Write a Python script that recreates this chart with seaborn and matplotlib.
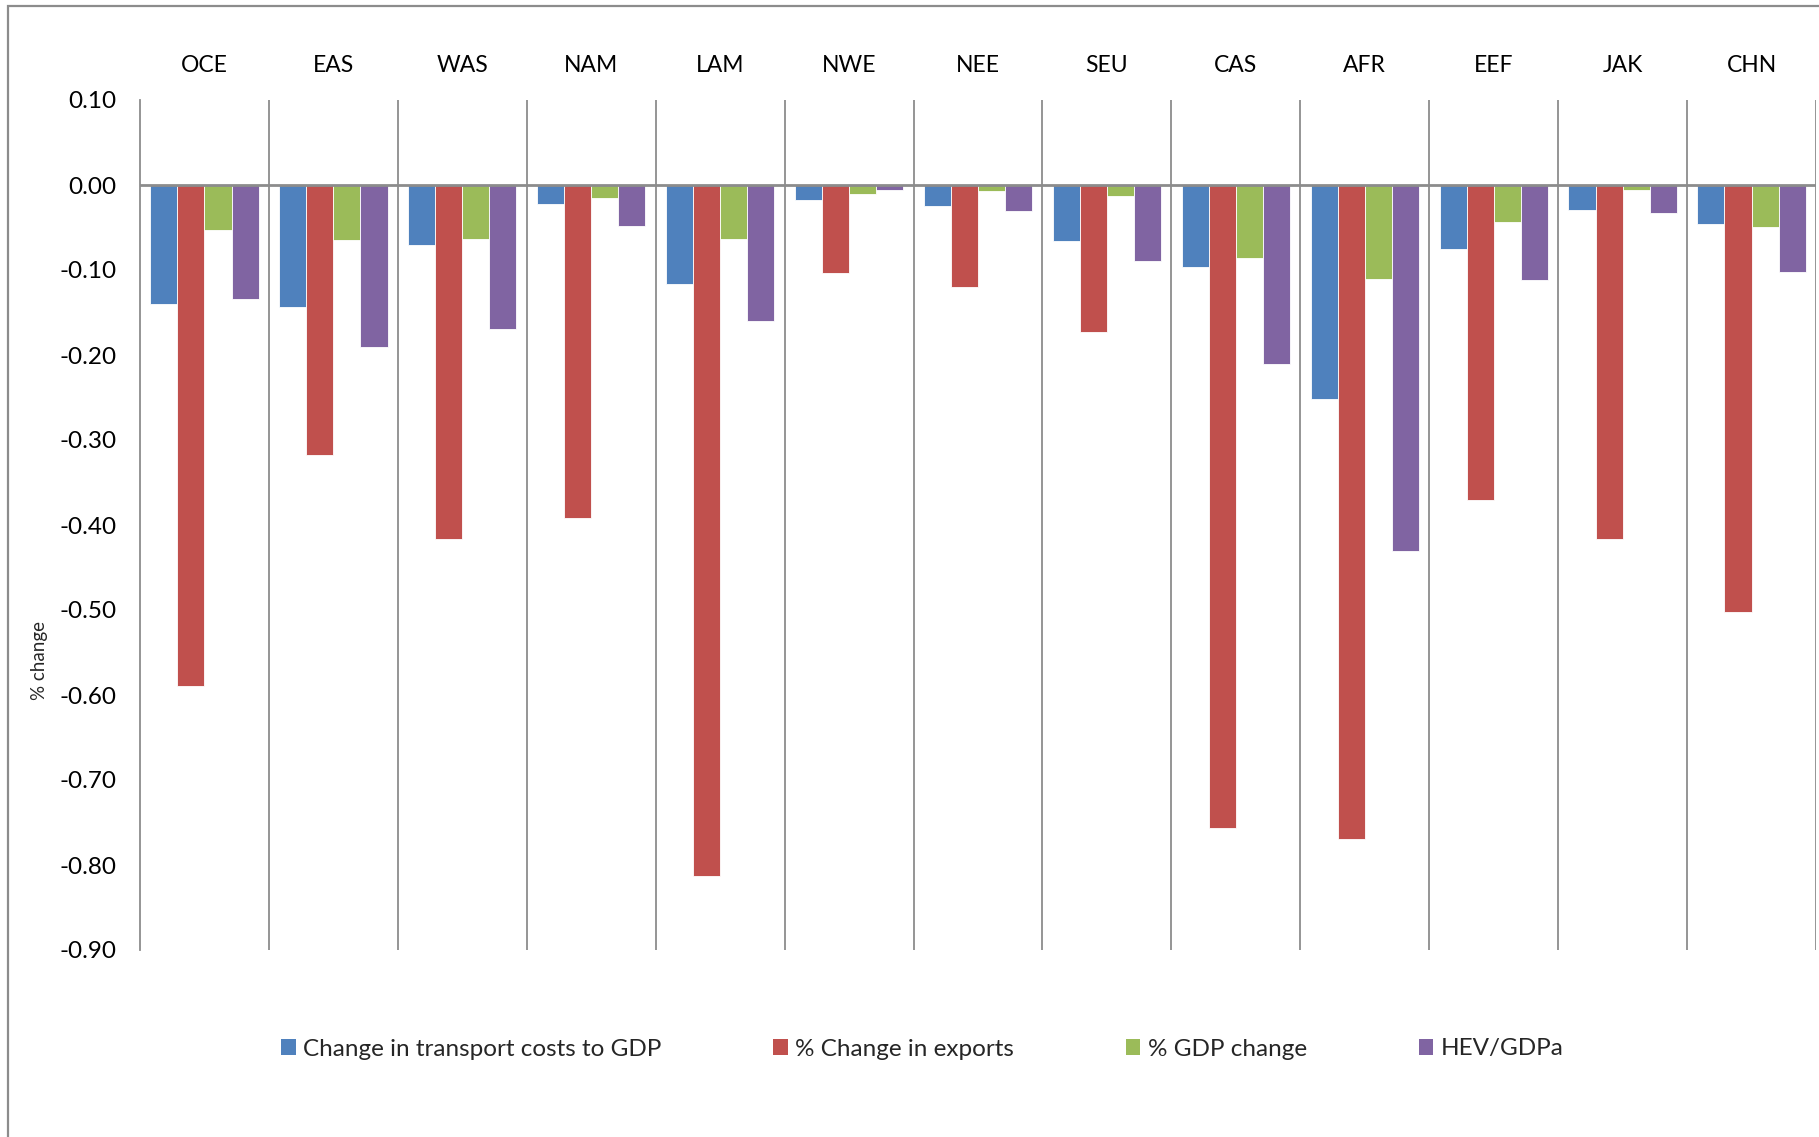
import numpy as np
import pandas as pd
import matplotlib
matplotlib.use("Agg")
import matplotlib.pyplot as plt
from matplotlib.patches import Rectangle, Patch
import seaborn as sns

regions = ["OCE", "EAS", "WAS", "NAM", "LAM", "NWE", "NEE", "SEU", "CAS", "AFR", "EEF", "JAK", "CHN"]
series = ["Change in transport costs to GDP", "% Change in exports", "% GDP change", "HEV/GDPa"]
transport = [-0.140, -0.143, -0.070, -0.022, -0.116, -0.018, -0.025, -0.066, -0.096, -0.252, -0.075, -0.029, -0.046]
exports = [-0.589, -0.318, -0.416, -0.392, -0.813, -0.104, -0.120, -0.173, -0.756, -0.769, -0.371, -0.416, -0.502]
gdp = [-0.053, -0.065, -0.064, -0.015, -0.064, -0.010, -0.007, -0.013, -0.086, -0.111, -0.044, -0.006, -0.049]
hev = [-0.134, -0.190, -0.169, -0.048, -0.160, -0.006, -0.030, -0.089, -0.211, -0.431, -0.112, -0.033, -0.102]
yticks = [0.10, 0.00, -0.10, -0.20, -0.30, -0.40, -0.50, -0.60, -0.70, -0.80, -0.90]
colors = ["#4F81BD", "#C0504D", "#9BBB59", "#8064A2"]

rows = []
for name, vals in zip(series, [transport, exports, gdp, hev]):
    for r, v in zip(regions, vals):
        rows.append({"region": r, "series": name, "value": v})
df = pd.DataFrame(rows)

sns.set_theme(style="white")
plt.rcParams["font.family"] = ["Lato", "DejaVu Sans"]

fig = plt.figure(figsize=(18.19, 11.37), dpi=100)
ax = fig.add_axes([140 / 1819, 1 - 950 / 1137, (1816 - 140) / 1819, 850 / 1137])

sns.barplot(data=df, x="region", y="value", hue="series", order=regions,
            hue_order=series, palette=colors, width=0.84, saturation=1,
            edgecolor="white", linewidth=0.6, legend=False, ax=ax)

ax.set_xlim(-0.5, len(regions) - 0.5)
ax.set_ylim(-0.90, 0.10)
ax.set_yticks(yticks)
ax.set_yticklabels([f"{t:.2f}" for t in yticks])
ax.tick_params(axis="y", length=0, pad=17, labelsize=17.5, colors="black")
ax.xaxis.tick_top()
ax.tick_params(axis="x", length=0, pad=17, labelsize=16.5, colors="black")
ax.set_xlabel("")
ax.set_ylabel("")

ax.set_xticks(np.arange(0.5, len(regions)), minor=True)
ax.tick_params(axis="x", which="minor", length=0)
ax.grid(False)
ax.grid(which="minor", axis="x", color="#8C8C8C", linewidth=1.3)
ax.axhline(0, color="#8C8C8C", linewidth=2, zorder=3)

for s in ["top", "right", "bottom"]:
    ax.spines[s].set_visible(False)
ax.spines["left"].set_color("#8C8C8C")
ax.spines["left"].set_linewidth(1.3)

fig.text(40 / 1819, 1 - 661 / 1137, "% change", rotation=90, fontsize=13.5,
         ha="center", va="center")

handles = [Patch(facecolor=c, edgecolor="none") for c in colors]
fig.legend(handles, series, loc="center", bbox_to_anchor=(0.507, 1 - 1049 / 1137),
           ncol=4, frameon=False, fontsize=17.5, handlelength=0.6, handleheight=0.6,
           handletextpad=0.3, columnspacing=4.6)

fig.patches.append(Rectangle((8 / 1819, -0.1), 1.2, 1 - 6 / 1137 + 0.1,
                             transform=fig.transFigure, fill=False,
                             edgecolor="#8C8C8C", linewidth=1.6))

fig.savefig("out.png", dpi=100, facecolor="white")
